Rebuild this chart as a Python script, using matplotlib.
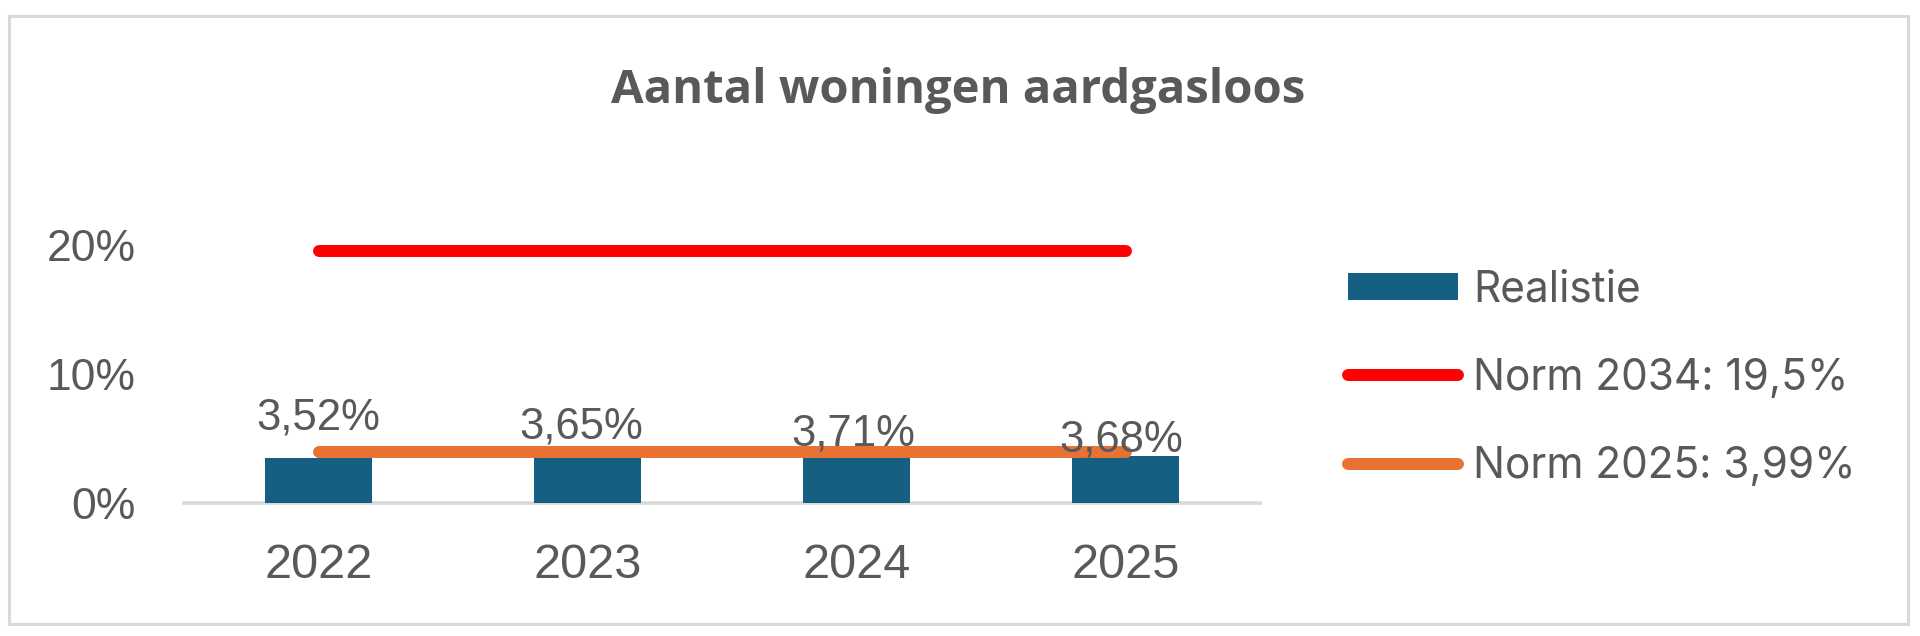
import matplotlib
matplotlib.use("Agg")
import matplotlib.pyplot as plt
from matplotlib.patches import Rectangle, Patch
from matplotlib.lines import Line2D
from matplotlib.ticker import FixedLocator, FuncFormatter

# ---------------- data ----------------
title = "Aantal woningen aardgasloos"
years = ["2022", "2023", "2024", "2025"]
realisatie = [3.52, 3.65, 3.71, 3.68]          # %
norm_2034 = [19.5, 19.5, 19.5, 19.5]            # %
norm_2025 = [3.99, 3.99, 3.99, 3.99]            # %
y_ticks = [0, 10, 20]
legend_labels = ["Realistie", "Norm 2034: 19,5%", "Norm 2025: 3,99%"]

# ---------------- style ----------------
BAR = "#156082"
ORANGE = "#E97132"
RED = "#FF0000"
TEXT = "#595959"
GRID = "#D9D9D9"
LINE_W = 8.6
# manual label placement (pixels, relative to bar top)
label_dx = [0, -6, -3, -4]
label_dy = [28, 17, 10, 4]

W, H, DPI = 1920, 636, 100
fig = plt.figure(figsize=(W / DPI, H / DPI), dpi=DPI)
fig.patch.set_facecolor("white")

# chart border
fig.add_artist(Rectangle((9 / W, 12.5 / H), (1908 - 9) / W, (623.5 - 15.5) / H,
                         transform=fig.transFigure, fill=False,
                         edgecolor=GRID, linewidth=2.2))

ax = fig.add_axes([184 / W, 133 / H, (1260 - 184) / W, (503 - 245) / H])
x = list(range(len(years)))

ax.bar(x, realisatie, width=0.4, color=BAR, zorder=2)
ax.plot(x, norm_2034, color=RED, lw=LINE_W, solid_capstyle="round",
        zorder=3, clip_on=False)
ax.plot(x, norm_2025, color=ORANGE, lw=LINE_W, solid_capstyle="round",
        zorder=3, clip_on=False)

for i, v in enumerate(realisatie):
    ax.annotate(f"{v:.2f}".replace(".", ",") + "%", (x[i], v),
                xytext=(label_dx[i], label_dy[i]), textcoords="offset pixels",
                ha="center", va="baseline", fontsize=31.5, color=TEXT,
                family=["Liberation Sans", "DejaVu Sans"], zorder=5,
                annotation_clip=False)

ax.set_xlim(-0.5, len(years) - 0.5)
ax.set_ylim(0, 20)
ax.yaxis.set_major_locator(FixedLocator(y_ticks))
ax.yaxis.set_major_formatter(FuncFormatter(lambda v, p: f"{v:.0f}%"))
ax.set_xticks(x)
ax.set_xticklabels(years)

for s in ["top", "right", "left"]:
    ax.spines[s].set_visible(False)
ax.spines["bottom"].set_color(GRID)
ax.spines["bottom"].set_linewidth(2.6)
ax.spines["bottom"].set_zorder(1)

ax.tick_params(axis="y", length=0, pad=35, labelsize=32, labelcolor=TEXT)
ax.tick_params(axis="x", length=0, pad=29, labelsize=35, labelcolor=TEXT)
for lab in ax.get_xticklabels() + ax.get_yticklabels():
    lab.set_family(["Liberation Sans", "DejaVu Sans"])

fig.text(958 / W, 1 - 103 / H, title, ha="center", va="baseline",
         fontsize=34, fontweight="bold", color=TEXT,
         family=["Open Sans", "DejaVu Sans"])

handles = [
    Patch(facecolor=BAR, edgecolor="none"),
    Line2D([], [], color=RED, lw=LINE_W, solid_capstyle="round"),
    Line2D([], [], color=ORANGE, lw=LINE_W, solid_capstyle="round"),
]
leg = fig.legend(handles, legend_labels, loc="center left",
                 bbox_to_anchor=(1348 / W, 1 - 378 / H), frameon=False,
                 borderpad=0, borderaxespad=0, handlelength=2.6,
                 handleheight=0.6, handletextpad=0.36, labelspacing=1.12,
                 prop={"family": ["Inter", "DejaVu Sans"], "size": 30.5})
for t in leg.get_texts():
    t.set_color(TEXT)

fig.savefig("out.png", dpi=DPI, facecolor="white")
